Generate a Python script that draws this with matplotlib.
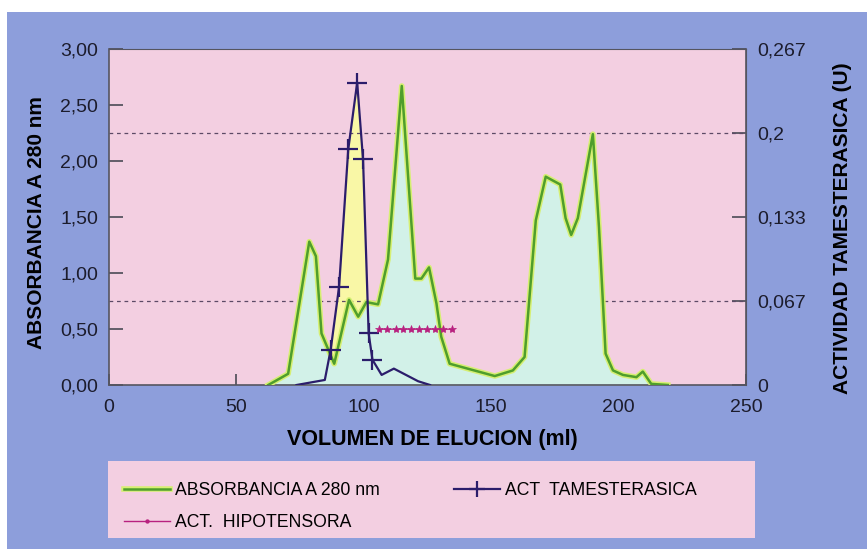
import numpy as np
import matplotlib
matplotlib.use("Agg")
import matplotlib.pyplot as plt
import matplotlib.patheffects as pe
from matplotlib.patches import Rectangle
from matplotlib.lines import Line2D

plt.rcParams['font.family'] = ['Liberation Sans', 'DejaVu Sans']

# elution profile: absorbance at 280 nm (left axis)
abs_x = [62.5, 70.3, 78.6, 81.2, 83.4, 88.4, 94.2, 97.8, 101, 105.6, 109.5, 114.9,
         120.2, 122.6, 125.6, 128.5, 130.4, 133.7, 151.4, 158.5, 163.1, 167.5, 171.4,
         177.1, 179.2, 181.4, 184, 189.9, 192.3, 194.9, 197.8, 201.7, 207, 209.5,
         212.8, 219.3]
abs_y = [0, 0.10, 1.28, 1.15, 0.46, 0.19, 0.76, 0.61, 0.74, 0.72, 1.12, 2.67,
         0.95, 0.95, 1.05, 0.73, 0.43, 0.19, 0.08, 0.13, 0.25, 1.47, 1.86,
         1.79, 1.49, 1.34, 1.49, 2.24, 1.41, 0.28, 0.13, 0.09, 0.07, 0.12,
         0.01, 0]

# tamesterasic activity in U (right axis)
tam_x = [73.6, 84.7, 87, 90.3, 93.9, 97.4, 99.7, 101.9, 103.4, 107, 111.8, 121.3, 126]
tam_u = [0, 0.004, 0.028, 0.078, 0.187, 0.240, 0.179, 0.041, 0.020, 0.008, 0.013, 0.003, 0]
tam_marked = [2, 3, 4, 5, 6, 7, 8]

# hypotensive activity fractions
hip_x = [106, 109.3, 112.5, 115.5, 118.5, 121.7, 125, 128, 131.2, 134.5]
hip_y = [0.50, 0.50, 0.50, 0.50, 0.50, 0.50, 0.50, 0.50, 0.50, 0.50]

x_ticks = [0, 50, 100, 150, 200, 250]
y_ticks = [0, 0.5, 1.0, 1.5, 2.0, 2.5, 3.0]
y_labels = ['0,00', '0,50', '1,00', '1,50', '2,00', '2,50', '3,00']
u_ticks = [0, 1 / 15, 2 / 15, 3 / 15, 4 / 15]
u_labels = ['0', '0,067', '0,133', '0,2', '0,267']

U_MAX = 4 / 15
BLUE = '#8d9edb'
PINK = '#f3cfe1'
CYAN = '#d2f1e8'
YELLOW = '#f9f7a6'
GREEN = '#4f9e2c'
PURPLE = '#2b1d6b'
MAGENTA = '#b8217f'
INK = '#1c1c2c'


def to_u(y):
    return y * U_MAX / 3.0


def from_u(u):
    return u * 3.0 / U_MAX


fig = plt.figure(figsize=(8.67, 5.49), dpi=100, facecolor='white')
fig.add_artist(Rectangle((7 / 867, 0), 1, 537 / 549, transform=fig.transFigure,
                         facecolor=BLUE, edgecolor='none', zorder=-2))
fig.add_artist(Rectangle((108 / 867, 11 / 549), 647 / 867, 77 / 549,
                         transform=fig.transFigure, facecolor=PINK,
                         edgecolor='none', zorder=-1))

ax = fig.add_axes([109 / 867, 164 / 549, 637 / 867, 336 / 549])
ax.set_facecolor(PINK)

tam_y = from_u(np.array(tam_u))

# yellow under the activity peak, covered by the absorbance area elsewhere
ax.fill_between(tam_x, tam_y, color=YELLOW, lw=0, zorder=1)
ax.fill_between(abs_x, abs_y, color=CYAN, lw=0, zorder=2)

green_line, = ax.plot(abs_x, abs_y, color=GREEN, lw=1.8, zorder=4,
                      path_effects=[pe.Stroke(linewidth=4, foreground='#d6ef72'),
                                    pe.Normal()])
tam_line, = ax.plot(tam_x, tam_y, color=PURPLE, lw=1.6, marker='+', ms=14,
                    mew=1.6, markevery=tam_marked, zorder=5)
hip_line, = ax.plot(hip_x, hip_y, color=MAGENTA, lw=0.6, marker='*', ms=6,
                    mew=0.5, zorder=5)

ax.set_xlim(0, 250)
ax.set_ylim(0, 3.0)
ax.set_xticks(x_ticks)
ax.set_xticklabels([str(v) for v in x_ticks])
ax.set_yticks(y_ticks)
ax.set_yticklabels(y_labels)

# dashed guides at the activity ticks
ax.set_yticks([from_u(u) for u in u_ticks[1:4]], minor=True)
ax.grid(True, which='minor', axis='y', color='#5c4a66', ls=(0, (3, 3)), lw=0.9)
ax.tick_params(axis='y', which='minor', length=0)
ax.tick_params(axis='both', which='major', direction='in', length=10, width=1.2,
               color='#4a4a55', labelsize=14, labelcolor=INK, pad=8)
ax.tick_params(axis='x', which='major', length=8, pad=10)

for side in ['left', 'bottom', 'top', 'right']:
    ax.spines[side].set_color('#555560')
    ax.spines[side].set_linewidth(1.2)
ax.spines['top'].set_linewidth(0.8)

sec = ax.secondary_yaxis('right', functions=(to_u, from_u))
sec.set_yticks(u_ticks)
sec.set_yticklabels(u_labels)
sec.tick_params(direction='in', length=10, width=1.2, color='#4a4a55',
                labelsize=14, labelcolor=INK, pad=8)
sec.spines['right'].set_color('#555560')

fig.text(432 / 867, 1 - 439 / 549, 'VOLUMEN DE ELUCION (ml)', ha='center',
         va='center', fontsize=15.5, fontweight='bold', color='black')
fig.text(37 / 867, 1 - 223 / 549, 'ABSORBANCIA A 280 nm', ha='center',
         va='center', rotation=90, fontsize=15, fontweight='bold', color='black')
fig.text(843 / 867, 1 - 228 / 549, 'ACTIVIDAD TAMESTERASICA (U)', ha='center',
         va='center', rotation=90, fontsize=15, fontweight='bold', color='black')

hip_handle = Line2D([], [], color=MAGENTA, lw=1, marker='.', ms=5)
fig.legend([green_line, hip_handle, tam_line],
           ['ABSORBANCIA A 280 nm', 'ACT.  HIPOTENSORA', 'ACT  TAMESTERASICA'],
           ncol=2, loc='upper left', bbox_to_anchor=(124 / 867, 1 - 482 / 549),
           frameon=False, fontsize=12.7, handlelength=2.6, handletextpad=0.3,
           columnspacing=4.2, labelspacing=0.85, borderpad=0, borderaxespad=0,
           markerscale=0.85)

fig.savefig('out.png', dpi=100)
